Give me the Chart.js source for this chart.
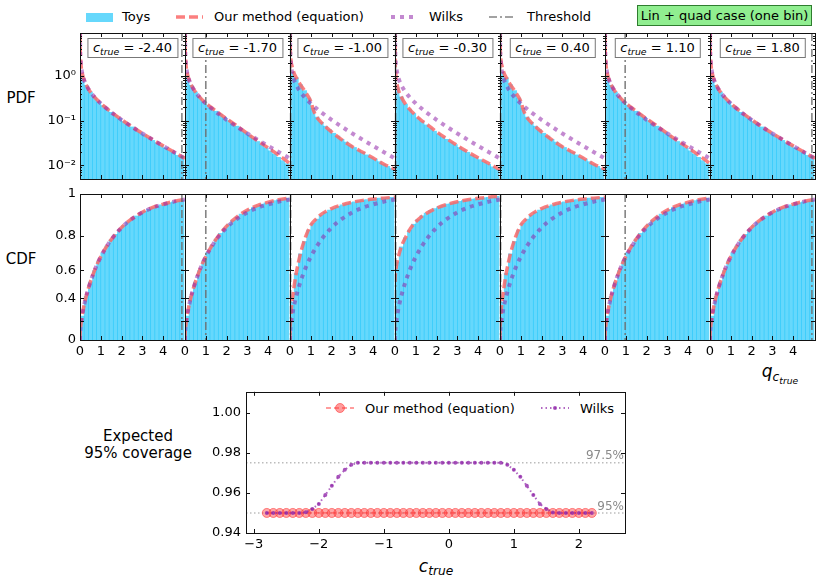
<!DOCTYPE html>
<html>
<head>
<meta charset="utf-8">
<script src="https://cdn.jsdelivr.net/npm/chart.js@4.4.0/dist/chart.umd.min.js"></script>
<style>
  body { margin: 0; background: #fff; font-family: 'DejaVu Sans', sans-serif; color: #000; }
  #page { position: relative; width: 822px; height: 582px; overflow: hidden; background: #fff; }
  #page canvas { position: absolute; }
  .txt { position: absolute; white-space: nowrap; font-size: 13px; line-height: 1; }
  .mid { transform: translate(-50%, -50%); text-align: center; }
  .ctbox { position: absolute; border: 1px solid #777; background: #fff; font-size: 13px; line-height: 15px;
           padding: 1px 5px 2px 5px; transform: translateX(-50%); white-space: nowrap; }
  .ico { position: absolute; }
  sub { font-size: 72%; vertical-align: -0.3em; line-height: 0; }
  sub sub { font-size: 75%; }
  i { font-style: italic; }
</style>
</head>
<body>
<div id="page">
  <!-- top legend -->
  <svg class="ico" style="left:86px;top:13px" width="27" height="9"><rect width="27" height="9" fill="rgba(0,190,250,0.6)"/></svg>
  <div class="txt" style="left:122px;top:10px">Toys</div>
  <svg class="ico" style="left:176px;top:14px" width="27" height="6"><line x1="0" y1="3" x2="27" y2="3" stroke="rgba(250,105,105,0.85)" stroke-width="3.5" stroke-dasharray="9,4"/></svg>
  <div class="txt" style="left:214px;top:10px">Our method (equation)</div>
  <svg class="ico" style="left:391px;top:14px" width="24" height="6"><line x1="0" y1="3" x2="24" y2="3" stroke="rgba(145,40,170,0.55)" stroke-width="4" stroke-dasharray="4,5"/></svg>
  <div class="txt" style="left:429px;top:10px">Wilks</div>
  <svg class="ico" style="left:489px;top:15px" width="26" height="4"><line x1="0" y1="2" x2="26" y2="2" stroke="rgba(110,110,110,0.85)" stroke-width="1.6" stroke-dasharray="8,3,2,3"/></svg>
  <div class="txt" style="left:527px;top:10px">Threshold</div>
  <div class="txt" style="left:637px;top:5px;width:175px;height:21px;box-sizing:border-box;border:1px solid #2f7d2f;background:#90ee90;padding-top:3px;text-align:center;">Lin + quad case (one bin)</div>

  <!-- row labels -->
  <div class="txt mid" style="left:21px;top:98px;font-size:15px">PDF</div>
  <div class="txt mid" style="left:21px;top:259px;font-size:15px">CDF</div>
  <div class="txt mid" style="left:780px;top:372px;font-size:17px"><i>q</i><sub><i>c</i><sub><i>true</i></sub></sub></div>

  <!-- coverage block labels -->
  <div class="txt mid" style="left:138px;top:445px;font-size:15px;line-height:17px">Expected<br>95% coverage</div>
  <div class="txt mid" style="left:436px;top:566px;font-size:17px"><i>c</i><sub><i>true</i></sub></div>
  <svg class="ico" style="left:326px;top:402px" width="28" height="12"><line x1="0" y1="6" x2="28" y2="6" stroke="rgba(255,60,60,0.5)" stroke-width="1.8" stroke-dasharray="5,3"/><circle cx="14" cy="6" r="4.5" fill="rgba(255,60,60,0.5)" stroke="rgba(255,60,60,0.6)"/></svg>
  <div class="txt" style="left:365px;top:402px">Our method (equation)</div>
  <svg class="ico" style="left:541px;top:403px" width="28" height="10"><line x1="0" y1="5" x2="28" y2="5" stroke="rgba(145,40,170,0.7)" stroke-width="2" stroke-dasharray="1.5,3"/><circle cx="14" cy="5" r="2" fill="rgba(145,40,170,0.8)"/></svg>
  <div class="txt" style="left:580px;top:402px">Wilks</div>
</div>

<script>
// Dados lidos da figura
// valores de c_true de cada coluna e os rotulos das caixas
const cTrueLabels = ['-2.40', '-1.70', '-1.00', '-0.30', '0.40', '1.10', '1.80'];
const thresholds = [4.9, 1.0, 0.03, 0.03, 0.03, 0.97, 4.9];
const panelShape = ['outer', 'near', 'mid', 'center', 'mid', 'near', 'outer'];

// grade de q para as curvas da PDF
const qPdf = [0.002, 0.01, 0.03, 0.06, 0.1, 0.2, 0.3, 0.5, 0.75, 1, 1.12, 1.25, 1.5, 2, 2.5, 3, 3.5, 4, 4.5, 5, 5.05];
const wilksPdf = [8.9, 3.97, 2.27, 1.58, 1.2, 0.807, 0.627, 0.439, 0.317, 0.242, 0.215, 0.191, 0.154, 0.104, 0.0723, 0.0514, 0.0371, 0.027, 0.0198, 0.0146, 0.0142];
const ourPdfOuter = [8.9, 3.95, 2.26, 1.58, 1.2, 0.81, 0.63, 0.44, 0.318, 0.243, 0.216, 0.192, 0.155, 0.105, 0.0728, 0.0517, 0.0372, 0.0271, 0.0199, 0.0147, 0.0143];
const ourPdfNear = [8.9, 3.95, 2.26, 1.58, 1.2, 0.81, 0.63, 0.44, 0.318, 0.245, 0.222, 0.199, 0.163, 0.11, 0.076, 0.051, 0.035, 0.0245, 0.0168, 0.0112, 0.0107];
const ourPdfMid = [9.5, 4.6, 2.7, 2.0, 1.65, 1.15, 0.92, 0.64, 0.43, 0.27, 0.175, 0.128, 0.091, 0.056, 0.037, 0.026, 0.0195, 0.0145, 0.0106, 0.0082, 0.0079];
const ourPdfCenter = [9.5, 2.1, 1.2, 0.83, 0.64, 0.43, 0.34, 0.235, 0.17, 0.13, 0.116, 0.103, 0.085, 0.056, 0.039, 0.0275, 0.0198, 0.0147, 0.011, 0.0081, 0.0078];

// grade de q para as curvas da CDF
const qCdf = [0, 0.01, 0.05, 0.1, 0.2, 0.3, 0.5, 0.75, 1, 1.25, 1.5, 2, 2.5, 3, 3.5, 4, 4.5, 5.05];
const wilksCdf = [0, 0.08, 0.177, 0.248, 0.345, 0.416, 0.52, 0.614, 0.683, 0.736, 0.779, 0.843, 0.886, 0.917, 0.939, 0.954, 0.966, 0.976];
const ourCdfOuter = [0, 0.08, 0.178, 0.249, 0.346, 0.417, 0.521, 0.615, 0.684, 0.737, 0.78, 0.844, 0.887, 0.918, 0.94, 0.955, 0.967, 0.977];
const ourCdfNear = [0, 0.08, 0.178, 0.249, 0.346, 0.417, 0.521, 0.615, 0.685, 0.739, 0.783, 0.85, 0.896, 0.928, 0.949, 0.964, 0.975, 0.983];
const ourCdfMid = [0, 0.12, 0.28, 0.37, 0.49, 0.58, 0.7, 0.795, 0.855, 0.885, 0.908, 0.935, 0.952, 0.964, 0.972, 0.978, 0.982, 0.986];
const ourCdfCenter = [0.52, 0.56, 0.61, 0.65, 0.7, 0.74, 0.79, 0.84, 0.872, 0.895, 0.912, 0.937, 0.954, 0.966, 0.975, 0.981, 0.986, 0.99];

// histogramas dos toys (centros dos bins de largura 0.2)
const qBins = [0.1, 0.3, 0.5, 0.7, 0.9, 1.1, 1.3, 1.5, 1.7, 1.9, 2.1, 2.3, 2.5, 2.7, 2.9, 3.1, 3.3, 3.5, 3.7, 3.9, 4.1, 4.3, 4.5, 4.7, 4.9];
const histPdfOuter = [1.0, 0.62, 0.44, 0.335, 0.265, 0.218, 0.182, 0.153, 0.131, 0.112, 0.096, 0.083, 0.072, 0.063, 0.055, 0.048, 0.042, 0.036, 0.032, 0.028, 0.0245, 0.0215, 0.019, 0.0166, 0.0146];
const histPdfNear = [1.0, 0.62, 0.44, 0.335, 0.265, 0.222, 0.19, 0.162, 0.139, 0.119, 0.101, 0.087, 0.075, 0.064, 0.055, 0.047, 0.04, 0.034, 0.029, 0.0245, 0.021, 0.0178, 0.015, 0.0127, 0.0108];
const histPdfMid = [1.2, 0.92, 0.64, 0.47, 0.32, 0.19, 0.12, 0.092, 0.075, 0.063, 0.052, 0.045, 0.038, 0.033, 0.028, 0.025, 0.0215, 0.0195, 0.017, 0.015, 0.0136, 0.012, 0.0105, 0.0094, 0.0084];
const histPdfCenter = [0.55, 0.34, 0.235, 0.18, 0.145, 0.115, 0.095, 0.08, 0.068, 0.058, 0.05, 0.043, 0.038, 0.033, 0.029, 0.025, 0.022, 0.0195, 0.017, 0.015, 0.0133, 0.0118, 0.0105, 0.0092, 0.0081];
const histCdfOuter = [0.248, 0.416, 0.52, 0.597, 0.657, 0.706, 0.746, 0.779, 0.808, 0.832, 0.853, 0.871, 0.886, 0.9, 0.911, 0.922, 0.931, 0.939, 0.946, 0.952, 0.957, 0.962, 0.966, 0.97, 0.973];
const histCdfNear = [0.248, 0.416, 0.52, 0.597, 0.658, 0.708, 0.749, 0.783, 0.813, 0.838, 0.86, 0.879, 0.895, 0.909, 0.921, 0.931, 0.94, 0.948, 0.955, 0.961, 0.966, 0.971, 0.975, 0.979, 0.982];
const histCdfMid = [0.37, 0.58, 0.7, 0.77, 0.83, 0.865, 0.885, 0.903, 0.917, 0.928, 0.937, 0.945, 0.952, 0.957, 0.962, 0.966, 0.97, 0.973, 0.976, 0.978, 0.98, 0.982, 0.984, 0.985, 0.986];
const histCdfCenter = [0.65, 0.74, 0.79, 0.83, 0.86, 0.883, 0.901, 0.914, 0.925, 0.935, 0.943, 0.95, 0.955, 0.96, 0.964, 0.968, 0.972, 0.975, 0.978, 0.98, 0.982, 0.984, 0.986, 0.988, 0.99];

// cobertura esperada vs c_true
const cScan = [-2.8, -2.7, -2.6, -2.5, -2.4, -2.3, -2.2, -2.1, -2.0, -1.9, -1.8, -1.7, -1.6, -1.5, -1.4, -1.3, -1.2, -1.1, -1.0,
  -0.9, -0.8, -0.7, -0.6, -0.5, -0.4, -0.3, -0.2, -0.1, 0.0, 0.1, 0.2, 0.3, 0.4, 0.5, 0.6, 0.7, 0.8, 0.9, 1.0,
  1.1, 1.2, 1.3, 1.4, 1.5, 1.6, 1.7, 1.8, 1.9, 2.0, 2.1, 2.2];
const ourCoverage = [0.95, 0.95, 0.95, 0.95, 0.95, 0.95, 0.95, 0.95, 0.95, 0.95, 0.95, 0.95, 0.95, 0.95, 0.95, 0.95, 0.95, 0.95, 0.95,
  0.95, 0.95, 0.95, 0.95, 0.95, 0.95, 0.95, 0.95, 0.95, 0.95, 0.95, 0.95, 0.95, 0.95, 0.95, 0.95, 0.95, 0.95, 0.95, 0.95,
  0.95, 0.95, 0.95, 0.95, 0.95, 0.95, 0.95, 0.95, 0.95, 0.95, 0.95, 0.95];
const wilksCoverage = [0.95, 0.95, 0.95, 0.95, 0.95, 0.95, 0.9503, 0.952, 0.9545, 0.959, 0.9635, 0.968, 0.9715, 0.974, 0.975, 0.975, 0.975, 0.975, 0.975,
  0.975, 0.975, 0.975, 0.975, 0.975, 0.975, 0.975, 0.975, 0.975, 0.975, 0.975, 0.975, 0.975, 0.975, 0.975, 0.975, 0.975, 0.975, 0.974, 0.9715,
  0.968, 0.9635, 0.959, 0.9545, 0.952, 0.9502, 0.95, 0.95, 0.95, 0.95, 0.95, 0.95];
const refLevels = [0.975, 0.95];
const refLabels = ['97.5%', '95%'];

// ticks e rotulos
const qTickValues = [0, 1, 2, 3, 4];
const pdfTickValues = [0.01, 0.1, 1];
const pdfTickLabels = ['10\u207B\u00B2', '10\u207B\u00B9', '10\u2070'];
const cdfTickValues = [0, 0.2, 0.4, 0.6, 0.8, 1];
const cdfTickLabels = ['0', '', '0.4', '0.6', '0.8', '1'];
const cTickValues = [-3, -2, -1, 0, 1, 2];
const cTickLabels = ['\u22123', '\u22122', '\u22121', '0', '1', '2'];
const covTickValues = [0.94, 0.96, 0.98, 1.0];
const covTickLabels = ['0.94', '0.96', '0.98', '1.00'];

const pdfShapes = { outer: [ourPdfOuter, histPdfOuter], near: [ourPdfNear, histPdfNear], mid: [ourPdfMid, histPdfMid], center: [ourPdfCenter, histPdfCenter] };
const cdfShapes = { outer: [ourCdfOuter, histCdfOuter], near: [ourCdfNear, histCdfNear], mid: [ourCdfMid, histCdfMid], center: [ourCdfCenter, histCdfCenter] };

// Estilos
const HIST_COLOR = 'rgba(0,190,250,0.6)';
const OUR_COLOR = 'rgba(250,105,105,0.85)';
const WILKS_COLOR = 'rgba(145,40,170,0.55)';
const THR_COLOR = 'rgba(110,110,110,0.85)';

// Geometria dos paineis
const PANEL_LEFT = 80, PANEL_W = 105, PANEL_H = 146;
const ROW_TOP = [33, 194];
const ML = 45, MT = 12, MR = 12, MB = 24;

Chart.defaults.font.family = "'DejaVu Sans', sans-serif";
Chart.defaults.font.size = 13;
Chart.defaults.color = '#000';

// Escala do eixo da CDF: pixel proporcional a exp(y)
class ExpScale extends Chart.LinearScale {
  getPixelForValue(value) {
    const a = Math.exp(this.min), b = Math.exp(this.max);
    return this.getPixelForDecimal((Math.exp(value) - a) / (b - a));
  }
  getValueForPixel(pixel) {
    const a = Math.exp(this.min), b = Math.exp(this.max);
    return Math.log(a + this.getDecimalForPixel(pixel) * (b - a));
  }
}
ExpScale.id = 'expy';
ExpScale.defaults = Chart.LinearScale.defaults;
Chart.register(ExpScale);

// Moldura e ticks para dentro nos quatro lados
const frameTicks = {
  id: 'frameTicks',
  afterDatasetsDraw(chart) {
    const { ctx, chartArea: a } = chart;
    const x = chart.scales.x, y = chart.scales.y;
    ctx.save();
    ctx.strokeStyle = '#111';
    ctx.lineWidth = 1;
    ctx.beginPath();
    x.ticks.forEach(t => {
      const px = Math.round(x.getPixelForValue(t.value)) + 0.5;
      const len = t.minor ? 2 : 4;
      ctx.moveTo(px, a.bottom); ctx.lineTo(px, a.bottom - len);
      ctx.moveTo(px, a.top); ctx.lineTo(px, a.top + len);
    });
    y.ticks.forEach(t => {
      const py = Math.round(y.getPixelForValue(t.value)) + 0.5;
      const len = t.minor ? 2 : 4;
      ctx.moveTo(a.left, py); ctx.lineTo(a.left + len, py);
      ctx.moveTo(a.right, py); ctx.lineTo(a.right - len, py);
    });
    ctx.stroke();
    ctx.strokeRect(Math.round(a.left) + 0.5, Math.round(a.top) + 0.5, Math.round(a.right - a.left), Math.round(a.bottom - a.top));
    ctx.restore();
  }
};

// Linha vertical do threshold
const thresholdLine = {
  id: 'threshold',
  afterDatasetsDraw(chart, args, opts) {
    if (opts.value == null) return;
    const { ctx, chartArea: a } = chart;
    const px = chart.scales.x.getPixelForValue(opts.value);
    ctx.save();
    ctx.strokeStyle = THR_COLOR;
    ctx.lineWidth = 1.6;
    ctx.setLineDash([8, 3, 2, 3]);
    ctx.beginPath();
    ctx.moveTo(px, a.top); ctx.lineTo(px, a.bottom);
    ctx.stroke();
    ctx.restore();
  }
};

// Linhas de referencia 95% / 97.5%
const refLines = {
  id: 'refLines',
  beforeDatasetsDraw(chart) {
    const { ctx, chartArea: a } = chart;
    const y = chart.scales.y;
    ctx.save();
    refLevels.forEach((lvl, i) => {
      const py = y.getPixelForValue(lvl);
      ctx.strokeStyle = 'rgba(160,160,160,0.7)';
      ctx.lineWidth = 1.4;
      ctx.setLineDash([1.5, 2.5]);
      ctx.beginPath();
      ctx.moveTo(a.left, py); ctx.lineTo(a.right, py);
      ctx.stroke();
      ctx.fillStyle = '#8a8a8a';
      ctx.font = "12px 'DejaVu Sans'";
      ctx.textAlign = 'right';
      ctx.textBaseline = 'bottom';
      ctx.fillText(refLabels[i], a.right - 1, py - 0.5);
    });
    ctx.restore();
  }
};

function pares(xs, ys) {
  return xs.map((x, i) => ({ x: x, y: ys[i] }));
}

function ticksFixos(values, labels, minors) {
  const list = values.map((v, i) => ({ value: v, lbl: labels ? labels[i] : String(v) }));
  (minors || []).forEach(v => list.push({ value: v, lbl: '', minor: true }));
  return list.sort((p, q) => p.value - q.value);
}

// ticks menores do eixo log
const pdfMinor = [];
[0.001, 0.01, 0.1, 1].forEach(d => {
  for (let k = 2; k <= 9; k++) {
    const v = k * d;
    if (v > 0.0049 && v < 9.2) pdfMinor.push(v);
  }
});

function criarPainel(row, col) {
  const page = document.getElementById('page');
  const canvas = document.createElement('canvas');
  const w = PANEL_W + ML + MR, h = PANEL_H + MT + MB;
  canvas.width = w; canvas.height = h;
  canvas.style.width = w + 'px'; canvas.style.height = h + 'px';
  canvas.style.left = (PANEL_LEFT + PANEL_W * col - ML) + 'px';
  canvas.style.top = (ROW_TOP[row] - MT) + 'px';
  page.appendChild(canvas);

  const shape = panelShape[col];
  const isPdf = row === 0;
  const [ourVals, histVals] = isPdf ? pdfShapes[shape] : cdfShapes[shape];
  const qs = isPdf ? qPdf : qCdf;
  const wilksVals = isPdf ? wilksPdf : wilksCdf;

  const yScale = isPdf ? {
    type: 'logarithmic', min: 0.0049, max: 9.2,
    afterBuildTicks: s => { s.ticks = ticksFixos(pdfTickValues, pdfTickLabels, pdfMinor); }
  } : {
    type: 'expy', min: 0, max: 1,
    afterBuildTicks: s => { s.ticks = ticksFixos(cdfTickValues, cdfTickLabels); }
  };
  Object.assign(yScale, {
    bounds: 'data',
    afterFit: s => { s.width = ML; },
    grid: { display: false, drawTicks: false },
    border: { display: false },
    ticks: { display: col === 0, autoSkip: false, padding: 4, callback: (v, i, t) => t[i].lbl }
  });

  new Chart(canvas, {
    type: 'line',
    data: {
      datasets: [
        {
          label: 'Wilks', data: pares(qs, wilksVals),
          borderColor: WILKS_COLOR, borderWidth: 4, borderDash: [4, 5],
          pointRadius: 0, cubicInterpolationMode: 'monotone', fill: false
        },
        {
          label: 'Our method (equation)', data: pares(qs, ourVals),
          borderColor: OUR_COLOR, borderWidth: 3.5, borderDash: [9, 4],
          pointRadius: 0, cubicInterpolationMode: 'monotone', fill: false
        },
        {
          type: 'bar', label: 'Toys', data: pares(qBins, histVals),
          backgroundColor: HIST_COLOR, borderWidth: 0,
          barPercentage: 1, categoryPercentage: 1, grouped: false
        }
      ]
    },
    options: {
      responsive: false,
      animation: false,
      events: [],
      layout: { padding: { top: MT, right: MR, left: 0, bottom: 0 } },
      scales: {
        x: {
          type: 'linear', min: 0, max: 5.05, bounds: 'data', offset: false,
          afterBuildTicks: s => { s.ticks = ticksFixos(qTickValues); },
          afterFit: s => { s.height = MB; },
          grid: { display: false, drawTicks: false, offset: false },
          border: { display: false },
          ticks: { display: !isPdf, autoSkip: false, padding: 4, maxRotation: 0, callback: (v, i, t) => t[i].lbl }
        },
        y: yScale
      },
      plugins: {
        legend: { display: false },
        tooltip: { enabled: false },
        threshold: { value: thresholds[col] }
      }
    },
    plugins: [thresholdLine, frameTicks]
  });

  // caixa com o valor de c_true
  if (isPdf) {
    const box = document.createElement('div');
    box.className = 'ctbox';
    box.style.left = (PANEL_LEFT + PANEL_W * col + PANEL_W / 2) + 'px';
    box.style.top = '38px';
    box.innerHTML = '<i>c</i><sub><i>true</i></sub> = ' + cTrueLabels[col];
    page.appendChild(box);
  }
}

// Grafico de cobertura
function criarGraficoCobertura() {
  const page = document.getElementById('page');
  const canvas = document.createElement('canvas');
  const L = 246, T = 391, W = 379, H = 142;
  const ml = 50, mt = 12, mr = 15, mb = 28;
  canvas.width = W + ml + mr; canvas.height = H + mt + mb;
  canvas.style.width = canvas.width + 'px'; canvas.style.height = canvas.height + 'px';
  canvas.style.left = (L - ml) + 'px';
  canvas.style.top = (T - mt) + 'px';
  page.appendChild(canvas);

  new Chart(canvas, {
    type: 'line',
    data: {
      datasets: [
        {
          label: 'Wilks', data: pares(cScan, wilksCoverage),
          borderColor: 'rgba(145,40,170,0.7)', borderWidth: 2, borderDash: [1.5, 3],
          pointRadius: 2, pointBackgroundColor: 'rgba(145,40,170,0.8)', pointBorderWidth: 0
        },
        {
          label: 'Our method (equation)', data: pares(cScan, ourCoverage),
          borderColor: 'rgba(255,60,60,0.5)', borderWidth: 1.8, borderDash: [5, 3],
          pointRadius: 4.5, pointBackgroundColor: 'rgba(255,60,60,0.45)',
          pointBorderColor: 'rgba(255,60,60,0.6)', pointBorderWidth: 1
        }
      ]
    },
    options: {
      responsive: false,
      animation: false,
      events: [],
      layout: { padding: { top: mt, right: mr, left: 0, bottom: 0 } },
      scales: {
        x: {
          type: 'linear', min: -3.12, max: 2.71, bounds: 'data',
          afterBuildTicks: s => { s.ticks = ticksFixos(cTickValues, cTickLabels); },
          afterFit: s => { s.height = mb; },
          grid: { display: false, drawTicks: false },
          border: { display: false },
          ticks: { autoSkip: false, padding: 4, maxRotation: 0, callback: (v, i, t) => t[i].lbl }
        },
        y: {
          type: 'linear', min: 0.94, max: 1.0104, bounds: 'data',
          afterBuildTicks: s => { s.ticks = ticksFixos(covTickValues, covTickLabels); },
          afterFit: s => { s.width = ml; },
          grid: { display: false, drawTicks: false },
          border: { display: false },
          ticks: { autoSkip: false, padding: 5, callback: (v, i, t) => t[i].lbl }
        }
      },
      plugins: { legend: { display: false }, tooltip: { enabled: false } }
    },
    plugins: [refLines, frameTicks]
  });
}

for (let row = 0; row < 2; row++) {
  for (let col = 0; col < 7; col++) {
    criarPainel(row, col);
  }
}
criarGraficoCobertura();
</script>
</body>
</html>
